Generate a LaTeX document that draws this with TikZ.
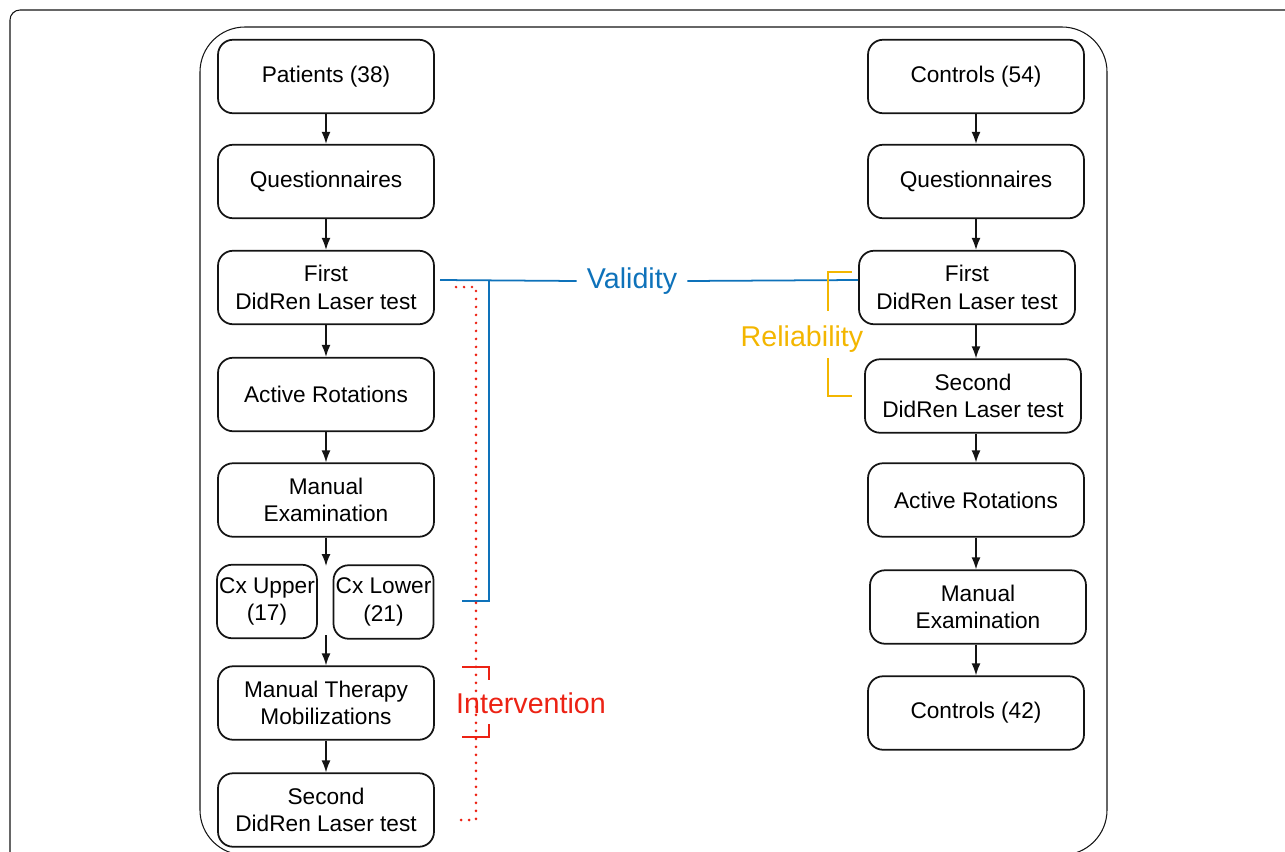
\documentclass[tikz,border=0pt]{standalone}
\usepackage{fontspec}
\setmainfont{Liberation Sans}
\usepackage{xcolor}
\usepackage{tikz}
\usetikzlibrary{arrows.meta}
\definecolor{ink}{RGB}{20,20,20}
\definecolor{validblue}{RGB}{14,114,186}
\definecolor{relyellow}{RGB}{243,182,0}
\definecolor{intred}{RGB}{236,34,20}

\begin{document}
\begin{tikzpicture}[x=0.02cm,y=-0.02cm,
  box/.style={draw=ink,line width=1pt,rounded corners=0.3cm,minimum width=4.32cm,minimum height=1.47cm,inner sep=2pt,align=center,font=\fontsize{12.9}{15.6}\selectfont},
  small/.style={box,minimum width=2cm,inner xsep=0.5pt},
  frame/.style={draw=ink,line width=0.6pt},
  arr/.style={-{Latex[length=2.4mm,width=1.8mm]},draw=ink,line width=0.8pt},
  lbl/.style={font=\fontsize{16.3}{18}\selectfont,inner xsep=0.2cm},
  valid/.style={draw=validblue,line width=1pt},
  reli/.style={draw=relyellow,line width=1pt},
  interv/.style={draw=intred,line width=1pt},
  dots/.style={draw=intred,line width=1.7pt,line cap=round,dash pattern=on 0pt off 0.16cm}
]
\clip (0,0) rectangle (1285,852);
% frames
\draw[frame,rounded corners=0.2cm] (10,10) rectangle (1320,880);
\draw[frame,rounded corners=0.9cm] (200,27) rectangle (1107,855);

% patients
\node[box] (pat) at (326,76.5) {Patients (38)};
\node[box] (queL) at (326,181.5) {Questionnaires};
\node[box] (firstL) at (326,287.5) {First\\DidRen Laser test};
\node[box] (rotL) at (326,394.5) {Active Rotations};
\node[box] (examL) at (326,500) {Manual\\Examination};
\node[small] (cxup) at (267,601.5) {Cx Upper\\(17)};
\node[small] (cxlo) at (383.5,602) {Cx Lower\\(21)};
\node[box] (manther) at (326,703) {Manual Therapy\\Mobilizations};
\node[box] (secondL) at (326,810) {Second\\DidRen Laser test};
\coordinate (cxtop) at (326,566);
\coordinate (cxbot) at (326,635);

% controls
\node[box] (ctlA) at (976,76.5) {Controls (54)};
\node[box] (queR) at (976,181.5) {Questionnaires};
\node[box] (firstR) at (967,287.5) {First\\DidRen Laser test};
\node[box] (secondR) at (973,396) {Second\\DidRen Laser test};
\node[box] (rotR) at (976,500) {Active Rotations};
\node[box] (examR) at (978,607) {Manual\\Examination};
\node[box] (ctlB) at (976,713) {Controls (42)};

\draw[arr] (pat) -- (queL);
\draw[arr] (queL) -- (firstL);
\draw[arr] (firstL) -- (rotL);
\draw[arr] (rotL) -- (examL);
\draw[arr] (examL) -- (cxtop);
\draw[arr] (cxbot) -- (manther);
\draw[arr] (manther) -- (secondL);

\draw[arr] (ctlA) -- (queR);
\draw[arr] (queR.south) -- (queR.south |- firstR.north);
\draw[arr] (firstR.south -| ctlA) -- (secondR.north -| ctlA);
\draw[arr] (secondR.south -| ctlA) -- (rotR.north);
\draw[arr] (rotR) -- (examR.north -| rotR);
\draw[arr] (examR.south -| rotR) -- (ctlB);

% validity
\node[lbl,text=validblue] (validity) at (632,281) {Validity};
\coordinate (vA) at (440,280);
\coordinate (vB) at (489,280);
\coordinate (vC) at (489,601);
\coordinate (vD) at (462,601);
\draw[valid] (vA) -- (validity.west);
\draw[valid] (validity.east) -- (firstR.west |- vA);
\draw[valid] (vB) -- (vC) -- (vD);

% reliability
\node[lbl,text=relyellow] (reliab) at (802,339) {Reliability};
\draw[reli] (852,272) -- (828,272) -- (828,311);
\draw[reli] (828,358) -- (828,396) -- (852,396);

% intervention
\node[lbl,text=intred] (interv) at (531,703) {Intervention};
\draw[dots] (456,287) -- (476,287) -- (476,820) -- (456,820);
\draw[interv] (462,667) -- (489,667) -- (489,680);
\draw[interv] (489,724) -- (489,737) -- (462,737);
\end{tikzpicture}
\end{document}
